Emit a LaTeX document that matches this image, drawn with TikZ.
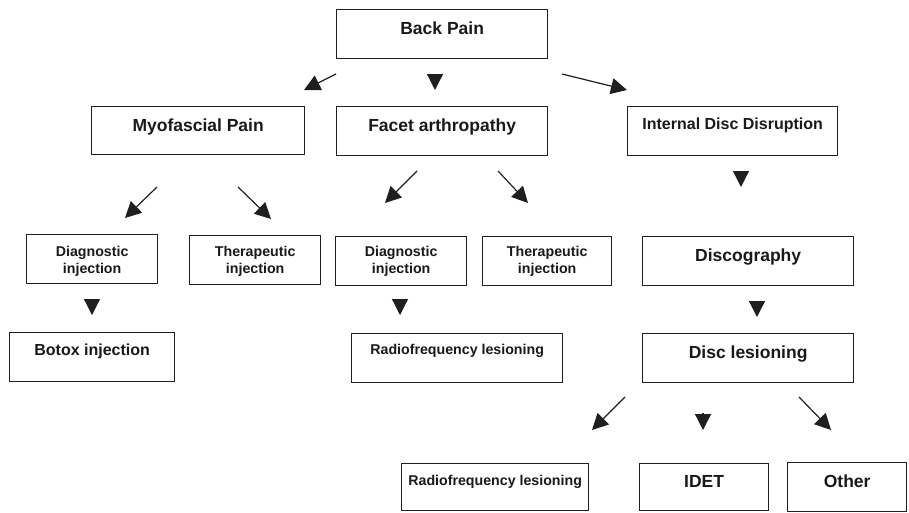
\documentclass[tikz,border=0pt]{standalone}
\usepackage{fontspec}
\setmainfont{Liberation Sans}
\usetikzlibrary{arrows.meta}
\newcommand{\fL}{\fontsize{17.5}{17.5}\selectfont\bfseries}
\newcommand{\fM}{\fontsize{16}{16}\selectfont\bfseries}
\newcommand{\fS}{\fontsize{14.2}{17}\selectfont\bfseries}
\tikzset{
  box/.style={draw=black!88, line width=1.3pt, inner sep=0pt, anchor=north west, align=center, text=black!90},
  arr/.style={draw=black!88, line width=1.2pt, -{Triangle[length=16pt,width=16pt]}},
}
\begin{document}
\begin{tikzpicture}[x=1pt,y=-1pt]
\useasboundingbox[fill=white] (0,0) rectangle (909,512);

% level 0
\node[box, minimum width=211pt, text height=25pt, text depth=24pt, font=\fL] (bp) at (336,9) {Back Pain};

% level 1
\node[box, minimum width=213pt, text height=25pt, text depth=23pt, font=\fL] (myo) at (91,106) {Myofascial Pain};
\node[box, minimum width=211pt, text height=25pt, text depth=24pt, font=\fL] (fac) at (336,106) {Facet arthropathy};
\node[box, minimum width=210pt, text height=23pt, text depth=26pt, font=\fM] (idd) at (627,106) {Internal Disc Disruption};

% level 2 (two-line boxes: the height is measured to the last baseline)
\node[box, minimum width=131pt, text height=39pt, text depth=10pt, font=\fS] (mdi) at (26,234) {Diagnostic\\injection};
\node[box, minimum width=131pt, text height=38pt, text depth=11pt, font=\fS] (mth) at (189,235) {Therapeutic\\injection};
\node[box, minimum width=131pt, text height=37pt, text depth=12pt, font=\fS] (fdi) at (335,236) {Diagnostic\\injection};
\node[box, minimum width=129pt, text height=37pt, text depth=12pt, font=\fS] (fth) at (482,236) {Therapeutic\\injection};
\node[box, minimum width=211pt, text height=25pt, text depth=24pt, font=\fL] (dsc) at (642,236) {Discography};

% level 3
\node[box, minimum width=165pt, text height=23pt, text depth=26pt, font=\fM] (btx) at (9,332) {Botox injection};
\node[box, minimum width=211pt, text height=21pt, text depth=28pt, font=\fS] (rfa) at (351,333) {Radiofrequency lesioning};
\node[box, minimum width=211pt, text height=25pt, text depth=24pt, font=\fL] (dl) at (642,333) {Disc lesioning};

% level 4
\node[box, minimum width=187pt, text height=22pt, text depth=25pt, font=\fS] (rfb) at (401,463) {Radiofrequency lesioning};
\node[box, minimum width=129pt, text height=24pt, text depth=23pt, font=\fL] (idet) at (639,463) {IDET};
\node[box, minimum width=119pt, text height=25pt, text depth=24pt, font=\fL] (oth) at (787,462) {Other};

% arrow end points (the arrows float between the boxes)
\coordinate (bp-l) at (336,74);  \coordinate (myo-in) at (304,90);
\coordinate (bp-m) at (435,75);  \coordinate (fac-in) at (435,90);
\coordinate (bp-r) at (562,74);  \coordinate (idd-in) at (627,90);
\coordinate (myo-l) at (157,187); \coordinate (mdi-in) at (125,218);
\coordinate (myo-r) at (238,187); \coordinate (mth-in) at (271,219);
\coordinate (fac-l) at (417,171); \coordinate (fdi-in) at (385,203);
\coordinate (fac-r) at (498,171); \coordinate (fth-in) at (528,203);
\coordinate (idd-o) at (741,172); \coordinate (dsc-in) at (741,187);
\coordinate (mdi-o) at (92,299);  \coordinate (btx-in) at (92,315);
\coordinate (fdi-o) at (400,299); \coordinate (rfa-in) at (400,315);
\coordinate (dsc-o) at (757,302); \coordinate (dl-in) at (757,317);
\coordinate (dl-l) at (625,397);  \coordinate (rfb-in) at (592,430);
\coordinate (dl-m) at (703,413);  \coordinate (idet-in) at (703,430);
\coordinate (dl-r) at (799,397);  \coordinate (oth-in) at (831,430);

\draw[arr] (bp-l) -- (myo-in);
\draw[arr] (bp-m) -- (fac-in);
\draw[arr] (bp-r) -- (idd-in);
\draw[arr] (myo-l) -- (mdi-in);
\draw[arr] (myo-r) -- (mth-in);
\draw[arr] (fac-l) -- (fdi-in);
\draw[arr] (fac-r) -- (fth-in);
\draw[arr] (idd-o) -- (dsc-in);
\draw[arr] (mdi-o) -- (btx-in);
\draw[arr] (fdi-o) -- (rfa-in);
\draw[arr] (dsc-o) -- (dl-in);
\draw[arr] (dl-l) -- (rfb-in);
\draw[arr] (dl-m) -- (idet-in);
\draw[arr] (dl-r) -- (oth-in);
\end{tikzpicture}
\end{document}
